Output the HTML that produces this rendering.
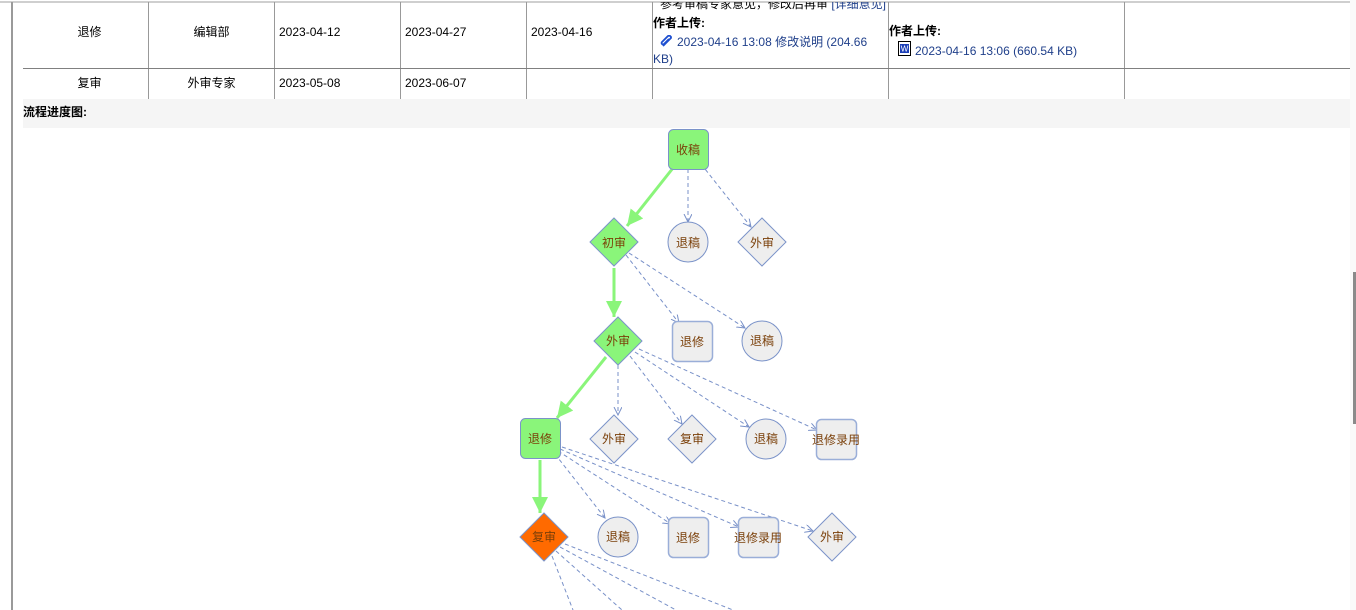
<!DOCTYPE html>
<html><head><meta charset="utf-8"><style>
html,body{margin:0;padding:0;background:#fff;width:1356px;height:610px;overflow:hidden;position:relative;font-family:"Liberation Sans","Noto Sans CJK SC",sans-serif;font-size:12px;color:#000}
.a{position:absolute;white-space:nowrap;line-height:16px}
.c{text-align:center}
.b{font-weight:bold}
.l{color:#1f3f8a}
.vl{position:absolute;width:1px;background:#999}
</style></head><body>
<div style="position:absolute;left:0;top:1px;width:1350px;height:2px;background:#cfcfcf"></div>
<div style="position:absolute;left:11px;top:2px;width:2px;height:608px;background:#9a9a9a"></div>
<div style="position:absolute;left:1350px;top:0;width:6px;height:610px;background:#fafafa"></div>
<div style="position:absolute;left:1353px;top:272px;width:3px;height:152px;background:#8a8a8a"></div>
<!-- table lines -->
<div class="vl" style="left:148px;top:2px;height:97px"></div>
<div class="vl" style="left:274px;top:2px;height:97px"></div>
<div class="vl" style="left:400px;top:2px;height:97px"></div>
<div class="vl" style="left:526px;top:2px;height:97px"></div>
<div class="vl" style="left:652px;top:2px;height:97px"></div>
<div class="vl" style="left:888px;top:2px;height:97px"></div>
<div class="vl" style="left:1124px;top:2px;height:97px"></div>
<div style="position:absolute;left:23px;top:68px;width:1327px;height:1px;background:#808080"></div>
<div style="position:absolute;left:23px;top:99px;width:1327px;height:29px;background:#f5f5f5"></div>
<div class="a b" style="left:23px;top:104px">流程进度图:</div>
<!-- row 1 -->
<div class="a c" style="left:27px;width:125px;top:24px">退修</div>
<div class="a c" style="left:149px;width:125px;top:24px">编辑部</div>
<div class="a" style="left:279px;top:24px">2023-04-12</div>
<div class="a" style="left:405px;top:24px">2023-04-27</div>
<div class="a" style="left:531px;top:24px">2023-04-16</div>
<div style="position:absolute;left:653px;top:2px;width:234px;height:12px;overflow:hidden">
<div class="a" style="left:7px;top:-6px">参考审稿专家意见，修改后再审 <span class="l">[详细意见]</span></div></div>
<div class="a b" style="left:653px;top:15px">作者上传:</div>
<svg style="position:absolute;left:660px;top:35px" width="14" height="13" viewBox="0 0 14 13"><path d="M3 11 L11 3 A2 2 0 0 0 8 1 L2 7 A1.3 1.3 0 0 0 4 9 L9 4" fill="none" stroke="#1e4fd0" stroke-width="1.8"/></svg>
<div class="a l" style="left:677px;top:34px">2023-04-16 13:08 修改说明 (204.66</div>
<div class="a l" style="left:653px;top:51px">KB)</div>
<div class="a b" style="left:889px;top:23px">作者上传:</div>
<svg style="position:absolute;left:898px;top:41px" width="13" height="15" viewBox="0 0 13 15"><rect x="0.5" y="0.5" width="12" height="14" fill="#fff" stroke="#000"/><rect x="2" y="3" width="9" height="9" fill="#1c3fb8"/><text x="6.5" y="10.5" font-size="8" fill="#fff" text-anchor="middle" font-family="Liberation Sans">W</text></svg>
<div class="a l" style="left:915px;top:43px">2023-04-16 13:06 (660.54 KB)</div>
<!-- row 2 -->
<div class="a c" style="left:27px;width:125px;top:75px">复审</div>
<div class="a c" style="left:149px;width:125px;top:75px">外审专家</div>
<div class="a" style="left:279px;top:75px">2023-05-08</div>
<div class="a" style="left:405px;top:75px">2023-06-07</div>

<svg style="position:absolute;left:0;top:0" width="1356" height="610" viewBox="0 0 1356 610">
<defs>
<marker id="g" markerUnits="userSpaceOnUse" markerWidth="20" markerHeight="20" refX="16" refY="8" orient="auto"><path d="M0 0 L16 8 L0 16 Z" fill="#8af57a"/></marker>
<marker id="d" markerUnits="userSpaceOnUse" markerWidth="12" markerHeight="12" refX="8" refY="4" orient="auto"><path d="M0 0 L8 4 L0 8" fill="none" stroke="#7890c8" stroke-width="1"/></marker>
</defs>
<g stroke="#7890c8" stroke-width="1" stroke-dasharray="4,3" fill="none" marker-end="url(#d)">
<line x1="688" y1="169" x2="688" y2="222"/>
<line x1="701" y1="164" x2="751" y2="227"/>
<line x1="626" y1="255" x2="679" y2="323"/>
<line x1="629" y1="253" x2="745" y2="328"/>
<line x1="618" y1="365" x2="618" y2="415"/>
<line x1="630" y1="356" x2="682" y2="424"/>
<line x1="635" y1="352" x2="749" y2="427"/>
<line x1="639" y1="349" x2="817" y2="430"/>
<line x1="555" y1="454" x2="605" y2="518"/>
<line x1="558" y1="451" x2="671" y2="524"/>
<line x1="560" y1="449" x2="739" y2="527"/>
<line x1="562" y1="447" x2="813" y2="531"/>
</g>
<g stroke="#7890c8" stroke-width="1" stroke-dasharray="4,3" fill="none">
<line x1="552" y1="556" x2="573" y2="610"/>
<line x1="556" y1="551" x2="622" y2="610"/>
<line x1="560" y1="547" x2="676" y2="610"/>
<line x1="565" y1="544" x2="733" y2="610"/>
</g>
<g stroke="#8af57a" stroke-width="3" fill="none" marker-end="url(#g)">
<line x1="673" y1="168" x2="627" y2="226"/>
<line x1="614" y1="268" x2="614" y2="317"/>
<line x1="606" y1="357" x2="557" y2="418"/>
<line x1="540" y1="460" x2="540" y2="513"/>
</g>
<g stroke="#7b93c9" stroke-width="1">
<rect x="668.5" y="129.5" width="40" height="40" rx="5" fill="#8af57a"/>
<path d="M614 218 L638 242 L614 266 L590 242 Z" fill="#8af57a"/>
<circle cx="688" cy="242" r="20" fill="#eeeeee"/>
<path d="M762 218 L786 242 L762 266 L738 242 Z" fill="#eeeeee"/>
<path d="M618 317 L642 341 L618 365 L594 341 Z" fill="#8af57a"/>
<rect x="672.5" y="321.5" width="40" height="40" rx="5" fill="#eeeeee" stroke="#9aaed8" stroke-width="1.5"/>
<circle cx="762" cy="341" r="20" fill="#eeeeee"/>
<rect x="520.5" y="418.5" width="40" height="40" rx="5" fill="#8af57a"/>
<path d="M614 415 L638 439 L614 463 L590 439 Z" fill="#eeeeee"/>
<path d="M692 415 L716 439 L692 463 L668 439 Z" fill="#eeeeee"/>
<circle cx="766" cy="439" r="20" fill="#eeeeee"/>
<rect x="816.5" y="419.5" width="40" height="40" rx="5" fill="#eeeeee" stroke="#9aaed8" stroke-width="1.5"/>
<path d="M544 513 L568 537 L544 561 L520 537 Z" fill="#ff6a00"/>
<circle cx="618" cy="537" r="20" fill="#eeeeee"/>
<rect x="668.5" y="517.5" width="40" height="40" rx="5" fill="#eeeeee" stroke="#9aaed8" stroke-width="1.5"/>
<rect x="738.5" y="517.5" width="40" height="40" rx="5" fill="#eeeeee" stroke="#9aaed8" stroke-width="1.5"/>
<path d="M832 513 L856 537 L832 561 L808 537 Z" fill="#eeeeee"/>
</g>
<g font-family="Liberation Sans, Noto Sans CJK SC, sans-serif" font-size="12" fill="#7a3f08" text-anchor="middle">
<text x="688" y="154">收稿</text>
<text x="614" y="247">初审</text>
<text x="688" y="247">退稿</text>
<text x="762" y="247">外审</text>
<text x="618" y="345">外审</text>
<text x="692" y="346">退修</text>
<text x="762" y="345">退稿</text>
<text x="540" y="443">退修</text>
<text x="614" y="443">外审</text>
<text x="692" y="443">复审</text>
<text x="766" y="443">退稿</text>
<text x="836" y="444">退修录用</text>
<text x="544" y="541">复审</text>
<text x="618" y="541">退稿</text>
<text x="688" y="542">退修</text>
<text x="758" y="542">退修录用</text>
<text x="832" y="541">外审</text>
</g>
</svg>
</body></html>
